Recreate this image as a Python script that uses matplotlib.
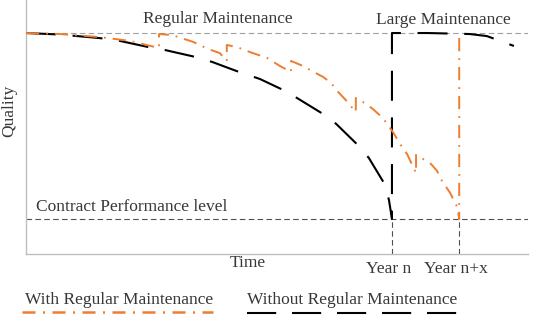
import matplotlib
matplotlib.use("Agg")
import matplotlib.pyplot as plt
import matplotlib.transforms as mtransforms
from matplotlib.lines import Line2D

# Quality curve without regular maintenance (drops to contract level, then large maintenance)
plain_time = [0, 6.8, 14.7, 18.7, 24.3, 27.7, 33.7, 37.1, 42.4, 46.6, 51.2, 54.0, 59.2,
              61.8, 66.1, 68.3, 71.3, 72.3, 72.9, 72.9, 80.0, 88.4, 91.8, 97.2]
plain_quality = [87.0, 86.4, 85.0, 83.9, 81.5, 80.3, 77.6, 75.6, 71.7, 68.9, 64.6, 61.4, 55.1,
                 51.2, 42.9, 37.8, 28.0, 21.3, 13.8, 87.0, 87.0, 86.6, 85.8, 81.9]

# Quality curve with regular maintenance (saw-tooth), then large maintenance at year n+x
maint_time = [0, 6.8, 14.7, 20.7, 26.5, 26.5, 29.1, 33.3, 36.3, 38.6, 40.0, 40.0, 42.0, 44.6,
              48.0, 50.6, 52.8, 52.8, 55.2, 57.0, 59.2, 60.8, 62.0, 63.7, 65.7, 65.7, 67.5,
              69.1, 71.1, 73.1, 74.9, 75.9, 77.7, 77.7, 80.5, 81.9, 82.5, 84.5, 85.9, 86.3, 86.3]
maint_quality = [87.0, 86.6, 85.4, 83.9, 81.1, 86.6, 86.2, 83.5, 80.7, 79.1, 76.0, 82.3, 81.5, 79.5,
                 77.2, 74.0, 71.7, 76.0, 74.0, 72.0, 69.7, 67.3, 64.2, 60.6, 55.9, 61.4, 59.4,
                 57.1, 53.5, 48.0, 42.1, 39.4, 31.9, 39.0, 35.8, 32.7, 29.9, 24.0, 18.5, 13.8, 87.0]

full_quality = 87.0
contract_level = 13.8
year_ticks = [72.9, 86.3]
year_labels = ["Year n", "Year n+x"]

ORANGE = "#ED7D31"
TEXT = "#383838"
FONT = "Liberation Serif"
FS = 12.5

fig = plt.figure(figsize=(5.33, 3.16), dpi=100)
ax = fig.add_axes([26 / 533, 62 / 316, 502 / 533, 254 / 316])
ax.set_xlim(0, 100)
ax.set_ylim(0, 100)

black_dash = (0, (14.4, 8.0))
orange_dashdot = (0, (6.8, 3.6, 0.9, 3.6))

ax.plot(plain_time, plain_quality, color="black", lw=1.5, linestyle=black_dash, zorder=3)
ax.plot(maint_time, maint_quality, color=ORANGE, lw=1.4, linestyle=orange_dashdot, zorder=4)

# reference levels
ax.axhline(full_quality, color="#A0A0A0", lw=0.8, linestyle=(0, (5, 3)), zorder=1)
ax.axhline(contract_level, color="#505050", lw=0.8, linestyle=(0, (5, 3)), zorder=1)
for t in year_ticks:
    ax.plot([t, t], [0, contract_level], color="#505050", lw=0.8, linestyle=(0, (5, 3)), zorder=1)

for side in ["top", "right"]:
    ax.spines[side].set_visible(False)
for side in ["left", "bottom"]:
    ax.spines[side].set_color("#BFBFBF")
    ax.spines[side].set_linewidth(1.0)

ax.set_yticks([])
ax.set_xticks(year_ticks)
ax.set_xticklabels(year_labels, fontsize=FS, family=FONT, color=TEXT)
ax.tick_params(axis="x", length=0, pad=5)
shift = mtransforms.ScaledTranslation(-3 / 100, 0, fig.dpi_scale_trans)
for lab in ax.get_xticklabels():
    lab.set_transform(lab.get_transform() + shift)

ax.text(38.2, 92.5, "Regular Maintenance", ha="center", va="center", fontsize=FS, family=FONT, color=TEXT)
ax.text(83.1, 92.1, "Large Maintenance", ha="center", va="center", fontsize=FS, family=FONT, color=TEXT)
ax.text(2.0, 18.5, "Contract Performance level", ha="left", va="center", fontsize=FS, family=FONT, color=TEXT)

fig.text(248 / 533, 1 - 263 / 316, "Time", ha="center", va="center", fontsize=FS, family=FONT, color=TEXT)
fig.text(9 / 533, 1 - 111 / 316, "Quality", ha="center", va="center", rotation=90,
         fontsize=FS, family=FONT, color=TEXT)

# legend drawn as underlined labels
fig.text(25 / 533, 1 - 300 / 316, "With Regular Maintenance", ha="left", va="center",
         fontsize=FS, family=FONT, color=TEXT)
fig.text(247 / 533, 1 - 300 / 316, "Without Regular Maintenance", ha="left", va="center",
         fontsize=FS, family=FONT, color=TEXT)
fig.add_artist(Line2D([22 / 533, 213 / 533], [1 - 312 / 316] * 2, transform=fig.transFigure,
                      color=ORANGE, lw=1.8, linestyle=(0, (5.2, 3.0, 0.8, 3.0))))
fig.add_artist(Line2D([247 / 533, 460 / 533], [1 - 313 / 316] * 2, transform=fig.transFigure,
                      color="black", lw=1.5, linestyle=(0, (14.0, 7.6))))

fig.savefig("out.png", dpi=100)
